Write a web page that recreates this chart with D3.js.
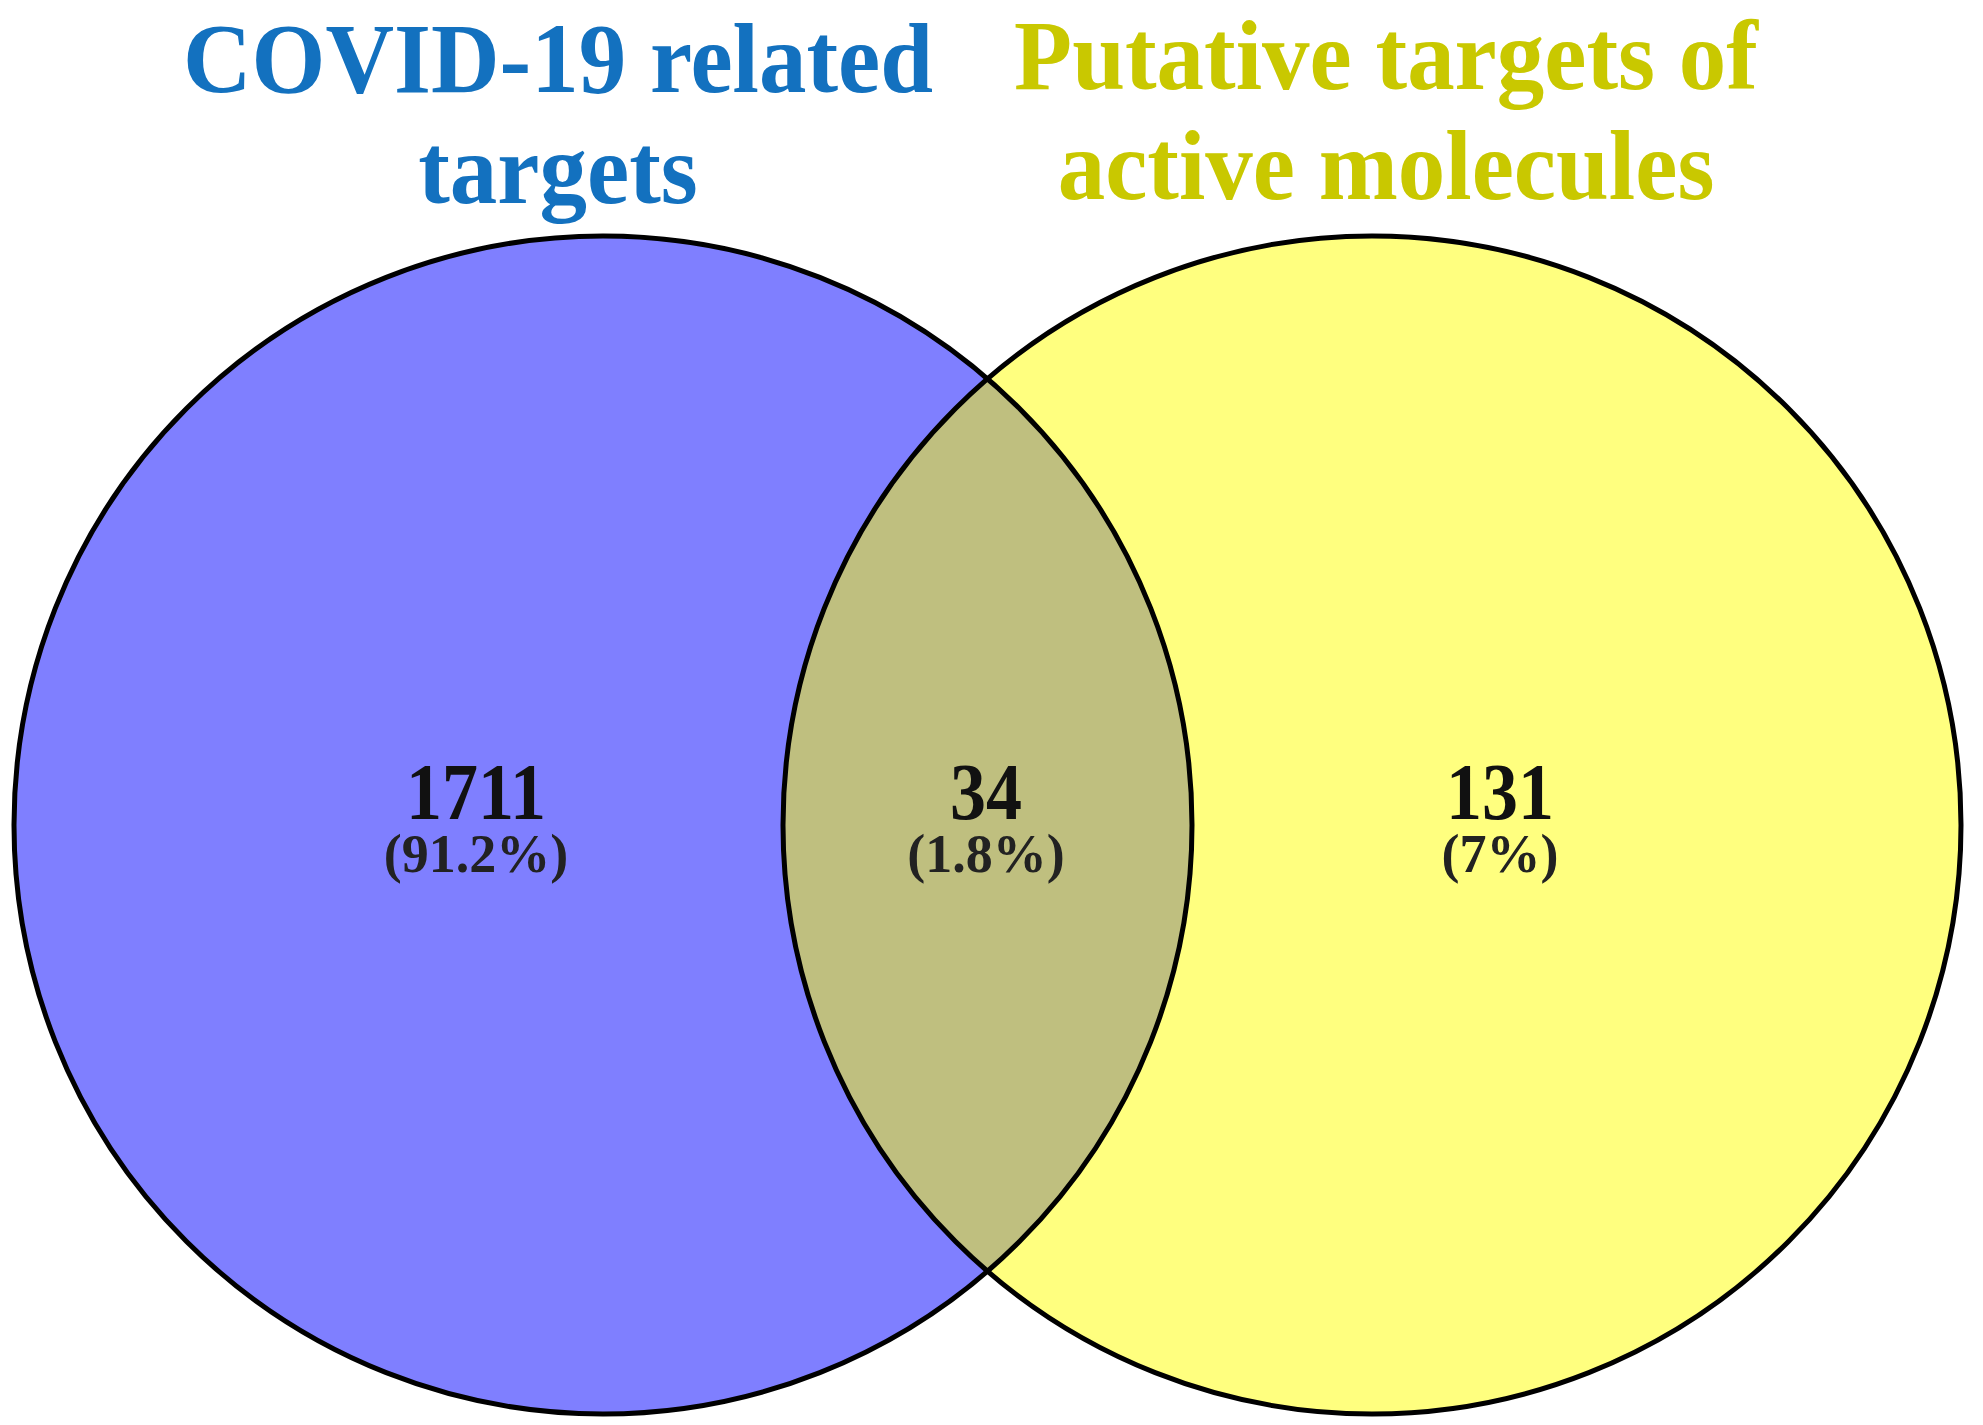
<!DOCTYPE html>
<html>
<head>
<meta charset="utf-8">
<script src="https://cdn.jsdelivr.net/npm/d3@7"></script>
<style>
  html, body { margin: 0; padding: 0; background: #fff; }
  svg { display: block; }
</style>
</head>
<body>
<div id="venn"></div>
<script>
(function() {

  // data
  let setNames = ["COVID-19 related targets", "Putative targets of active molecules"];
  let titleLines = [["COVID-19 related", "targets"], ["Putative targets of", "active molecules"]];
  let regions = ["left", "both", "right"];
  let regionCounts = [1711, 34, 131];
  let regionPercents = ["(91.2%)", "(1.8%)", "(7%)"];

  // set the dimensions of the picture
  let width = 1983,
      height = 1425;

  let svg = d3.select("#venn")
    .append("svg")
      .attr("width", width)
      .attr("height", height);

  // circle layout
  let radius = 589,
      cy = 825;
  let cx = d3.scaleOrdinal()
      .domain(setNames)
      .range([603, 1372]);
  let fill = d3.scaleOrdinal()
      .domain(setNames)
      .range(["#0000ff", "#ffff00"]);
  let titleColor = d3.scaleOrdinal()
      .domain(setNames)
      .range(["#1371bf", "#c9c800"]);

  // label x positions for the three regions
  let labelX = d3.scaleOrdinal()
      .domain(regions)
      .range([476, 986, 1500]);

  // translucent circles, the overlap blends
  svg.append("g")
    .selectAll("circle")
    .data(setNames)
    .enter()
    .append("circle")
      .attr("cx", function(d) { return cx(d); })
      .attr("cy", cy)
      .attr("r", radius)
      .attr("fill", function(d) { return fill(d); })
      .attr("fill-opacity", 0.5);

  // outlines on top
  svg.append("g")
    .selectAll("circle")
    .data(setNames)
    .enter()
    .append("circle")
      .attr("cx", function(d) { return cx(d); })
      .attr("cy", cy)
      .attr("r", radius)
      .attr("fill", "none")
      .attr("stroke", "#000")
      .attr("stroke-width", 5);

  // titles
  let titleX = [558, 1386],
      titleY = [[92, 203], [89, 199]];
  setNames.forEach(function(name, i) {
    let g = svg.append("g");
    titleLines[i].forEach(function(line, j) {
      g.append("text")
        .attr("transform", "translate(" + titleX[i] + "," + titleY[i][j] + ") scale(0.95,1)")
        .attr("text-anchor", "middle")
        .style("font-family", "'Liberation Serif', 'Times New Roman', serif")
        .style("font-weight", "bold")
        .style("font-size", "100px")
        .style("fill", titleColor(name))
        .text(line);
    });
  });

  // region counts and percentages
  let labels = svg.append("g")
    .selectAll("g")
    .data(regions)
    .enter()
    .append("g");

  labels.append("text")
    .attr("transform", function(d) { return "translate(" + labelX(d) + ",819) scale(0.9,1)"; })
    .attr("text-anchor", "middle")
    .style("font-family", "'Liberation Serif', 'Times New Roman', serif")
    .style("font-weight", "bold")
    .style("font-size", "80px")
    .style("fill", "#111")
    .text(function(d, i) { return regionCounts[i]; });

  labels.append("text")
    .attr("transform", function(d) { return "translate(" + labelX(d) + ",872)"; })
    .attr("text-anchor", "middle")
    .style("font-family", "'Liberation Serif', 'Times New Roman', serif")
    .style("font-weight", "bold")
    .style("font-size", "54px")
    .style("fill", "#222")
    .text(function(d, i) { return regionPercents[i]; });

})();
</script>
</body>
</html>
